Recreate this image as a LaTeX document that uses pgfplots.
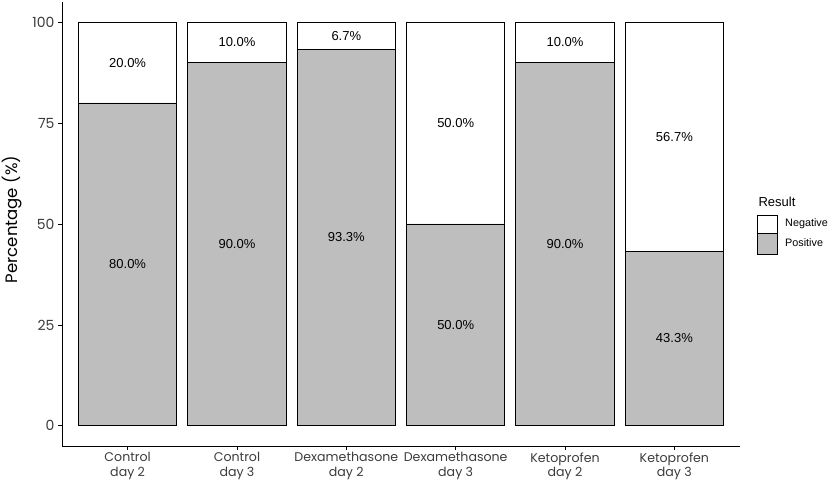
\documentclass[border=0pt]{standalone}
\usepackage{pgfplots}
\pgfplotsset{compat=1.18}
\usepackage{fontspec}
\setmainfont{Liberation Sans}
\newfontfamily\gothicfont{Poppins}
\definecolor{barg}{RGB}{190,190,190}
\definecolor{txtg}{RGB}{60,60,60}
\begin{document}
\begin{tikzpicture}
\path[use as bounding box] (0pt,0pt) rectangle (829pt,481pt);
\begin{axis}[
  at={(62pt,35pt)}, anchor=south west,
  scale only axis, width=678pt, height=444pt,
  xmin=0.4, xmax=6.6, ymin=-5, ymax=105,
  ybar stacked, bar width=0.9,
  axis x line*=bottom, axis y line*=left,
  axis line style={-, black, line width=0.8pt},
  xtick={1,2,3,4,5,6},
  xticklabels={{Control\\day 2},{Control\\day 3},{Dexamethasone\\day 2},{Dexamethasone\\day 3},{Ketoprofen\\day 2},{Ketoprofen\\day 3}},
  ytick={0,25,50,75,100},
  tick align=outside, major tick length=4pt,
  tick style={black, line width=0.8pt},
  y tick label style={font=\gothicfont\fontsize{14}{14.5}\selectfont, text=txtg},
  x tick label style={font=\gothicfont\fontsize{12.6}{14.5}\selectfont, text=txtg, align=center, yshift=1pt},
  /pgf/number format/assume math mode=true,
  ylabel={Percentage (\%)},
  ylabel style={font=\gothicfont\fontsize{16.5}{17}\selectfont, at={(axis description cs:-0.0737,0.51)}, anchor=center},
  clip=false,
]
\addplot[fill=barg, draw=black, line width=0.8pt] coordinates {(1,80) (2,90) (3,93.3) (4,50) (5,90) (6,43.3)};
\addplot[fill=white, draw=black, line width=0.8pt] coordinates {(1,20) (2,10) (3,6.7) (4,50) (5,10) (6,56.7)};
\coordinate (p1) at (axis cs:1,40);
\coordinate (n1) at (axis cs:1,90);
\coordinate (p2) at (axis cs:2,45);
\coordinate (n2) at (axis cs:2,95);
\coordinate (p3) at (axis cs:3,46.65);
\coordinate (n3) at (axis cs:3,96.65);
\coordinate (p4) at (axis cs:4,25);
\coordinate (n4) at (axis cs:4,75);
\coordinate (p5) at (axis cs:5,45);
\coordinate (n5) at (axis cs:5,95);
\coordinate (p6) at (axis cs:6,21.65);
\coordinate (n6) at (axis cs:6,71.65);
\end{axis}
\begin{scope}[every node/.style={font=\fontsize{13}{14}\selectfont, text=black}]
\node at (p1) {80.0\%};
\node at (n1) {20.0\%};
\node at (p2) {90.0\%};
\node at (n2) {10.0\%};
\node at (p3) {93.3\%};
\node at (n3) {6.7\%};
\node at (p4) {50.0\%};
\node at (n4) {50.0\%};
\node at (p5) {90.0\%};
\node at (n5) {10.0\%};
\node at (p6) {43.3\%};
\node at (n6) {56.7\%};
\end{scope}
% legend
\node[anchor=west, font=\fontsize{13}{14}\selectfont] at (755pt,279pt) {Result};
\draw[black, line width=0.8pt, fill=white] (757pt,248pt) rectangle (777pt,266pt);
\draw[black, line width=0.8pt, fill=barg] (757pt,227pt) rectangle (777pt,248pt);
\node[anchor=west, font=\fontsize{10.8}{12}\selectfont, inner sep=0pt] at (785pt,257pt) {Negative};
\node[anchor=west, font=\fontsize{10.8}{12}\selectfont, inner sep=0pt] at (785pt,238pt) {Positive};
\end{tikzpicture}
\end{document}
